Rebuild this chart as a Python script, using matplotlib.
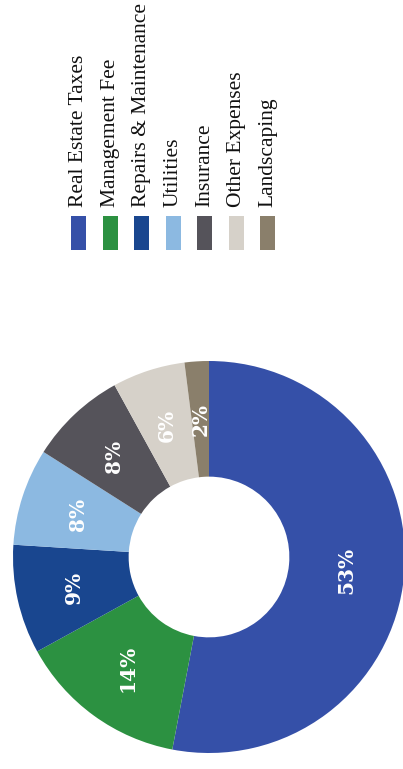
import numpy as np
import matplotlib.pyplot as plt
from matplotlib.patches import Rectangle

# Operating expense breakdown
categories = ['Real Estate Taxes', 'Management Fee', 'Repairs & Maintenance',
              'Utilities', 'Insurance', 'Other Expenses', 'Landscaping']
shares = [53, 14, 9, 8, 8, 6, 2]
colors = ['#3550A8', '#2C9141', '#19468F', '#8CB9E1', '#55535A', '#D6D1C9', '#8A7F6B']

fig = plt.figure(figsize=(4.03, 7.69), dpi=100)

# Donut, drawn turned a quarter turn so labels read bottom-to-top
W, H = 403., 769.
cx, cy, r = 209., 557., 196.
ax = fig.add_axes([(cx - r) / W, 1 - (cy + r) / H, 2 * r / W, 2 * r / H])
wedges, texts, autotexts = ax.pie(
    shares, colors=colors, startangle=90, counterclock=False, radius=1,
    autopct=lambda p: '%d%%' % round(p), pctdistance=0.705,
    wedgeprops=dict(width=0.59, edgecolor='none'))
for t in autotexts:
    t.set_rotation(90)
    t.set_color('white')
    t.set_fontfamily('DejaVu Serif')
    t.set_fontweight('bold')
    t.set_fontsize(14.5)
    t.set_ha('center')
    t.set_va('center')
ax.set_xlim(-1, 1)
ax.set_ylim(-1, 1)
ax.set_aspect('equal')
ax.axis('off')

# Legend: swatches in a row with vertical labels above
x0, step = 78.5, 31.5
pw, ph = 15., 34.
py_top = 216.
for i, (cat, col) in enumerate(zip(categories, colors)):
    xc = x0 + i * step
    fig.patches.append(Rectangle(((xc - pw / 2) / W, 1 - (py_top + ph) / H),
                                 pw / W, ph / H, facecolor=col, edgecolor='none',
                                 transform=fig.transFigure))
    fig.text(xc / W, 1 - 207 / H, cat, rotation=90, ha='center', va='bottom',
             fontfamily='Liberation Serif', fontsize=15.5, color='#111111')

fig.savefig('out.png', dpi=100)
